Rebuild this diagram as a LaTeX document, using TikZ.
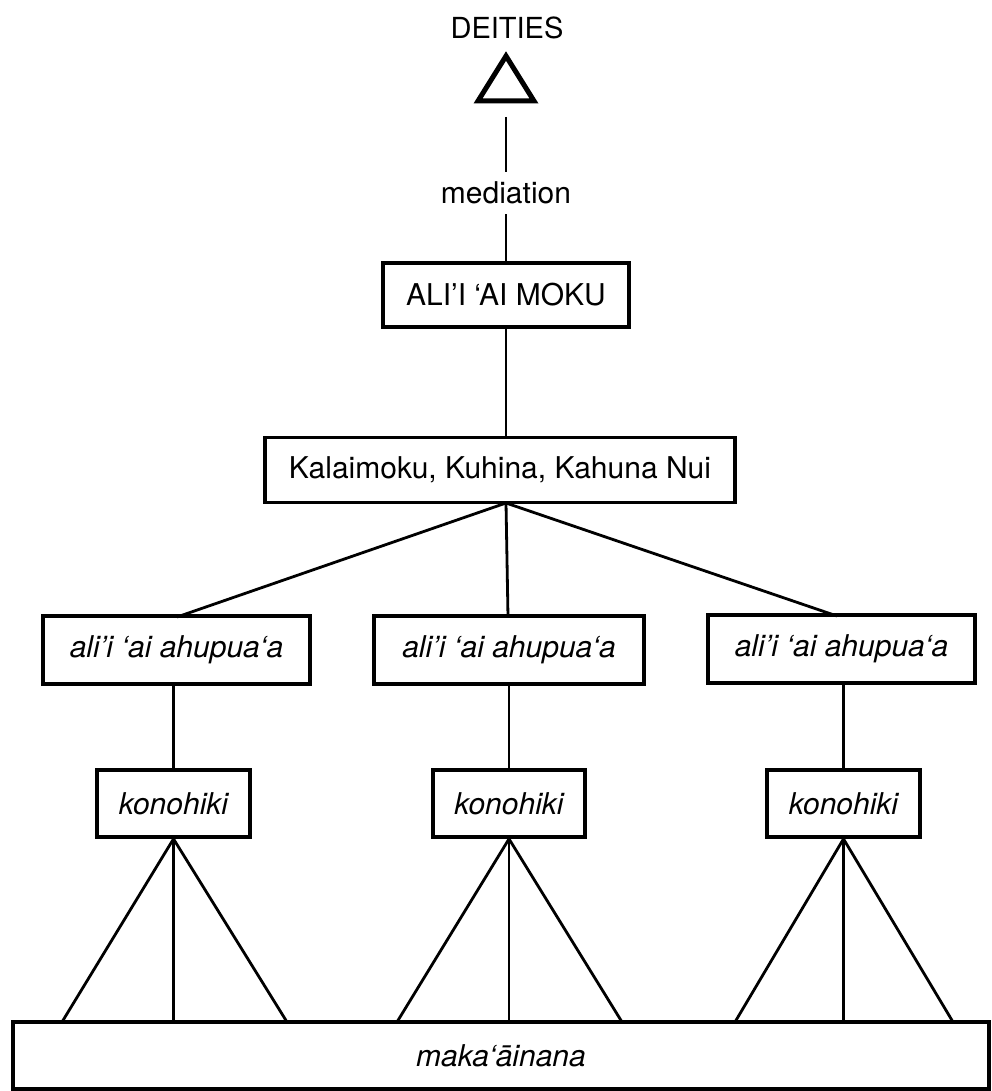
\documentclass[tikz,border=0pt]{standalone}
\usepackage{fontspec}
\setmainfont{TeX Gyre Heros}
\usetikzlibrary{calc}
\tikzset{
  box/.style={draw, line width=3.8pt, rectangle, inner sep=0pt, font=\fontsize{30}{34}\selectfont},
  ibox/.style={box, font=\fontsize{30}{34}\selectfont\itshape},
  conn/.style={line width=2.8pt},
  lbl/.style={font=\fontsize{30}{34}\selectfont, inner sep=0pt}
}
\begin{document}
\begin{tikzpicture}[x=1pt,y=-1pt]
\useasboundingbox (0,0) rectangle (992,1091);
% deities
\node[lbl, font=\fontsize{29}{32}\selectfont] (deities) at (507,28) {DEITIES};
\draw[line width=5pt, line join=miter] (506,56) -- (534,101) -- (478,101) -- cycle;
\coordinate (tribase) at (506,117);
\node[lbl, inner ysep=10pt] (med) at (506,193) {mediation};
% boxes
\node[box, minimum width=246pt, minimum height=64pt] (ali) at (506,295) {ALI’I ‘AI MOKU};
\node[box, minimum width=470pt, minimum height=65pt] (kal) at (500,470) {Kalaimoku, Kuhina, Kahuna Nui};
\node[ibox, minimum width=267pt, minimum height=68pt] (ah1) at (176.5,650) {ali’i ‘ai ahupua‘a};
\node[ibox, minimum width=270pt, minimum height=68pt] (ah2) at (509,650) {ali’i ‘ai ahupua‘a};
\node[ibox, minimum width=267pt, minimum height=68pt] (ah3) at (841.5,649) {ali’i ‘ai ahupua‘a};
\node[ibox, minimum width=153pt, minimum height=67pt] (ko1) at (173.5,803.5) {konohiki};
\node[ibox, minimum width=152pt, minimum height=67pt] (ko2) at (509,803.5) {konohiki};
\node[ibox, minimum width=153pt, minimum height=67pt] (ko3) at (843.5,803.5) {konohiki};
\node[ibox, minimum width=976pt, minimum height=67pt] (mak) at (501,1055.5) {maka‘āinana};
% connectors
\draw[conn] (tribase) -- (med.north);
\draw[conn] (med.south) -- (ali.north);
\draw[conn] (ali.south) -- (ali.south |- kal.north);
\coordinate (kb) at (506,503);
\draw[conn] (kb) -- (177,617);
\draw[conn] (kb) -- (508,617);
\draw[conn] (kb) -- (837,616);
\draw[conn] (ko1.north |- ah1.south) -- (ko1.north);
\draw[conn] (ko2.north |- ah2.south) -- (ko2.north);
\draw[conn] (ko3.north |- ah3.south) -- (ko3.north);
% fans
\foreach \k/\l/\r in {ko1/62/287, ko2/397/622, ko3/735/953}{
  \draw[conn] (\k.south) -- (\l,1022);
  \draw[conn] (\k.south) -- (\k.south |- mak.north);
  \draw[conn] (\k.south) -- (\r,1022);
}
\end{tikzpicture}
\end{document}
